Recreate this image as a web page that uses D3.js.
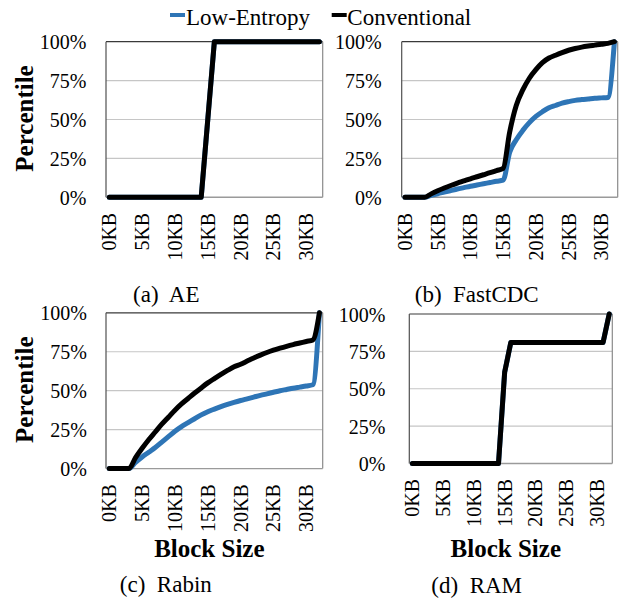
<!DOCTYPE html>
<html>
<head>
<meta charset="utf-8">
<script src="https://cdn.jsdelivr.net/npm/d3@7/dist/d3.min.js"></script>
<style>
  html, body { margin: 0; padding: 0; background: #ffffff; }
  svg { display: block; }
  svg text { font-family: "Times New Roman", Times, "Liberation Serif", Tinos, "Noto Serif", "DejaVu Serif", FreeSerif, serif; }
</style>
</head>
<body>
<svg id="chart" width="627" height="602"></svg>
<script>
// ---------------- data ----------------
const blockSizesKB = d3.range(0, 33);                 // categories 0KB .. 32KB
const xTickValues  = [0, 5, 10, 15, 20, 25, 30];
const xTickLabels  = ["0KB", "5KB", "10KB", "15KB", "20KB", "25KB", "30KB"];
const yTickValues  = [0, 25, 50, 75, 100];
const yTickLabels  = ["0%", "25%", "50%", "75%", "100%"];
const seriesNames  = ["Low-Entropy", "Conventional"];

const aeLow   = [0,0,0,0,0,0,0,0,0,0,0,0,0,0,0,50,100,100,100,100,100,100,100,100,100,100,100,100,100,100,100,100,100];
const aeConv  = [0,0,0,0,0,0,0,0,0,0,0,0,0,0,0,50,100,100,100,100,100,100,100,100,100,100,100,100,100,100,100,100,100];

const fastLow  = [0,0,0,0,1.2,2.3,3.3,4.3,5.3,6.2,7.1,7.9,8.7,9.5,10.3,11,29,37,43,48,52,55,57.5,59,60.5,61.5,62.3,62.8,63.2,63.6,63.9,64.2,100];
const fastConv = [0,0,0,0,2.2,4.2,6,7.6,9.1,10.5,11.9,13.2,14.5,15.8,17.2,18.6,42,59,69,76.5,82,86.5,89.5,91.3,93,94.5,95.6,96.5,97.2,97.8,98.4,98.9,100];

const rabinLow  = [0,0,0,0,4,7.5,10.5,13.5,17,20.5,24,27,29.5,32,34.5,36.5,38.2,39.8,41.2,42.5,43.7,44.8,45.9,47,48,49,50,50.8,51.6,52.3,53,53.8,100];
const rabinConv = [0,0,0,0,7,13,18.5,23.5,28.5,33,37.5,41.5,45,48.5,51.8,55,57.8,60.5,63,65.3,67,69,71,72.8,74.5,76,77.3,78.5,79.6,80.6,81.6,82.6,100];

const ramLow  = [0,0,0,0,0,0,0,0,0,0,0,0,0,0,0,61,81,81,81,81,81,81,81,81,81,81,81,81,81,81,81,81,100];
const ramConv = [0,0,0,0,0,0,0,0,0,0,0,0,0,0,0,61,81,81,81,81,81,81,81,81,81,81,81,81,81,81,81,81,100];

// ---------------- layout ----------------
const colors = { "Low-Entropy": "#2e75b6", "Conventional": "#000000" };

const panels = [
  { caption: "(a)  AE",      low: aeLow,    conv: aeConv,    smooth: false, box: {l:106,   r:322.7, t:41.7,  b:197.3}, yTitle: true,  xTitle: false, yLabGap: 19.5, capX: 166.3, capY: 301.7 },
  { caption: "(b)  FastCDC", low: fastLow,  conv: fastConv,  smooth: true,  box: {l:401.7, r:617.7, t:41.7,  b:197.3}, yTitle: false, xTitle: false, yLabGap: 20,   capX: 476.7, capY: 301.7 },
  { caption: "(c)  Rabin",   low: rabinLow, conv: rabinConv, smooth: true,  box: {l:106,   r:322.7, t:312.8, b:468.6}, yTitle: true,  xTitle: true,  yLabGap: 19,   capX: 165.8, capY: 591.7 },
  { caption: "(d)  RAM",     low: ramLow,   conv: ramConv,   smooth: false, box: {l:409.3, r:612.3, t:314,   b:463.5}, yTitle: false, xTitle: true,  yLabGap: 24,   capX: 476.7, capY: 593 }
];

const svg = d3.select("#chart");

panels.forEach(p => {
  const bx = p.box;
  const x = d3.scaleLinear().domain([-0.5, 32.5]).range([bx.l, bx.r]);
  const y = d3.scaleLinear().domain([0, 100]).range([bx.b, bx.t]);
  const g = svg.append("g");

  g.selectAll("line.grid").data(yTickValues.filter(v => v > 0 && v < 100)).enter()
    .append("line").attr("class", "grid")
    .attr("x1", bx.l).attr("x2", bx.r)
    .attr("y1", d => y(d)).attr("y2", d => y(d))
    .attr("stroke", "#c6c6c6").attr("stroke-width", 1.2);

  g.append("line").attr("x1", bx.l).attr("x2", bx.r).attr("y1", bx.t).attr("y2", bx.t).attr("stroke", "#3a3a3a").attr("stroke-width", 1.2);
  g.append("line").attr("x1", bx.l).attr("x2", bx.l).attr("y1", bx.t).attr("y2", bx.b).attr("stroke", "#505050").attr("stroke-width", 1.2);
  g.append("line").attr("x1", bx.r).attr("x2", bx.r).attr("y1", bx.t).attr("y2", bx.b).attr("stroke", "#8a8a8a").attr("stroke-width", 1.2);
  g.append("line").attr("x1", bx.l).attr("x2", bx.r).attr("y1", bx.b).attr("y2", bx.b).attr("stroke", "#9a9a9a").attr("stroke-width", 1.4);

  g.selectAll("text.ytick").data(yTickValues).enter()
    .append("text").attr("class", "ytick")
    .attr("x", bx.l - p.yLabGap).attr("y", d => y(d) + 7.5)
    .attr("text-anchor", "end").attr("font-size", 20)
    .text((d, i) => yTickLabels[i]);

  g.selectAll("text.xtick").data(xTickValues).enter()
    .append("text").attr("class", "xtick")
    .attr("transform", d => `translate(${x(d) + 7},${bx.b + 15.5}) rotate(-90)`)
    .attr("text-anchor", "end").attr("font-size", 20)
    .text((d, i) => xTickLabels[i]);

  const line = d3.line().x((d, i) => x(blockSizesKB[i])).y(d => y(d))
    .curve(p.smooth ? d3.curveMonotoneX : d3.curveLinear);
  [["Low-Entropy", p.low], ["Conventional", p.conv]].forEach(([name, vals]) => {
    g.append("path").datum(vals)
      .attr("d", line)
      .attr("fill", "none")
      .attr("stroke", colors[name])
      .attr("stroke-width", 5)
      .attr("stroke-linejoin", "round")
      .attr("stroke-linecap", "round");
  });

  if (p.yTitle) {
    g.append("text")
      .attr("transform", `translate(33,${(bx.t + bx.b) / 2 - 1}) rotate(-90)`)
      .attr("text-anchor", "middle").attr("font-size", 25).attr("font-weight", "bold")
      .text("Percentile");
  }
  if (p.xTitle) {
    g.append("text")
      .attr("x", (bx.l + bx.r) / 2 - 5).attr("y", 556.7)
      .attr("text-anchor", "middle").attr("font-size", 25).attr("font-weight", "bold")
      .text("Block Size");
  }

  g.append("text")
    .attr("x", p.capX).attr("y", p.capY)
    .attr("text-anchor", "middle").attr("font-size", 23)
    .style("white-space", "pre")
    .text(p.caption);
});

const legendItems = [
  { name: seriesNames[0], x1: 170,   x2: 185,   tx: 186 },
  { name: seriesNames[1], x1: 331.7, x2: 346.7, tx: 347.3 }
];
legendItems.forEach(it => {
  svg.append("line").attr("x1", it.x1).attr("x2", it.x2).attr("y1", 15).attr("y2", 15)
    .attr("stroke", colors[it.name]).attr("stroke-width", 4);
  svg.append("text").attr("x", it.tx).attr("y", 25).attr("font-size", 23).text(it.name);
});
</script>
</body>
</html>
